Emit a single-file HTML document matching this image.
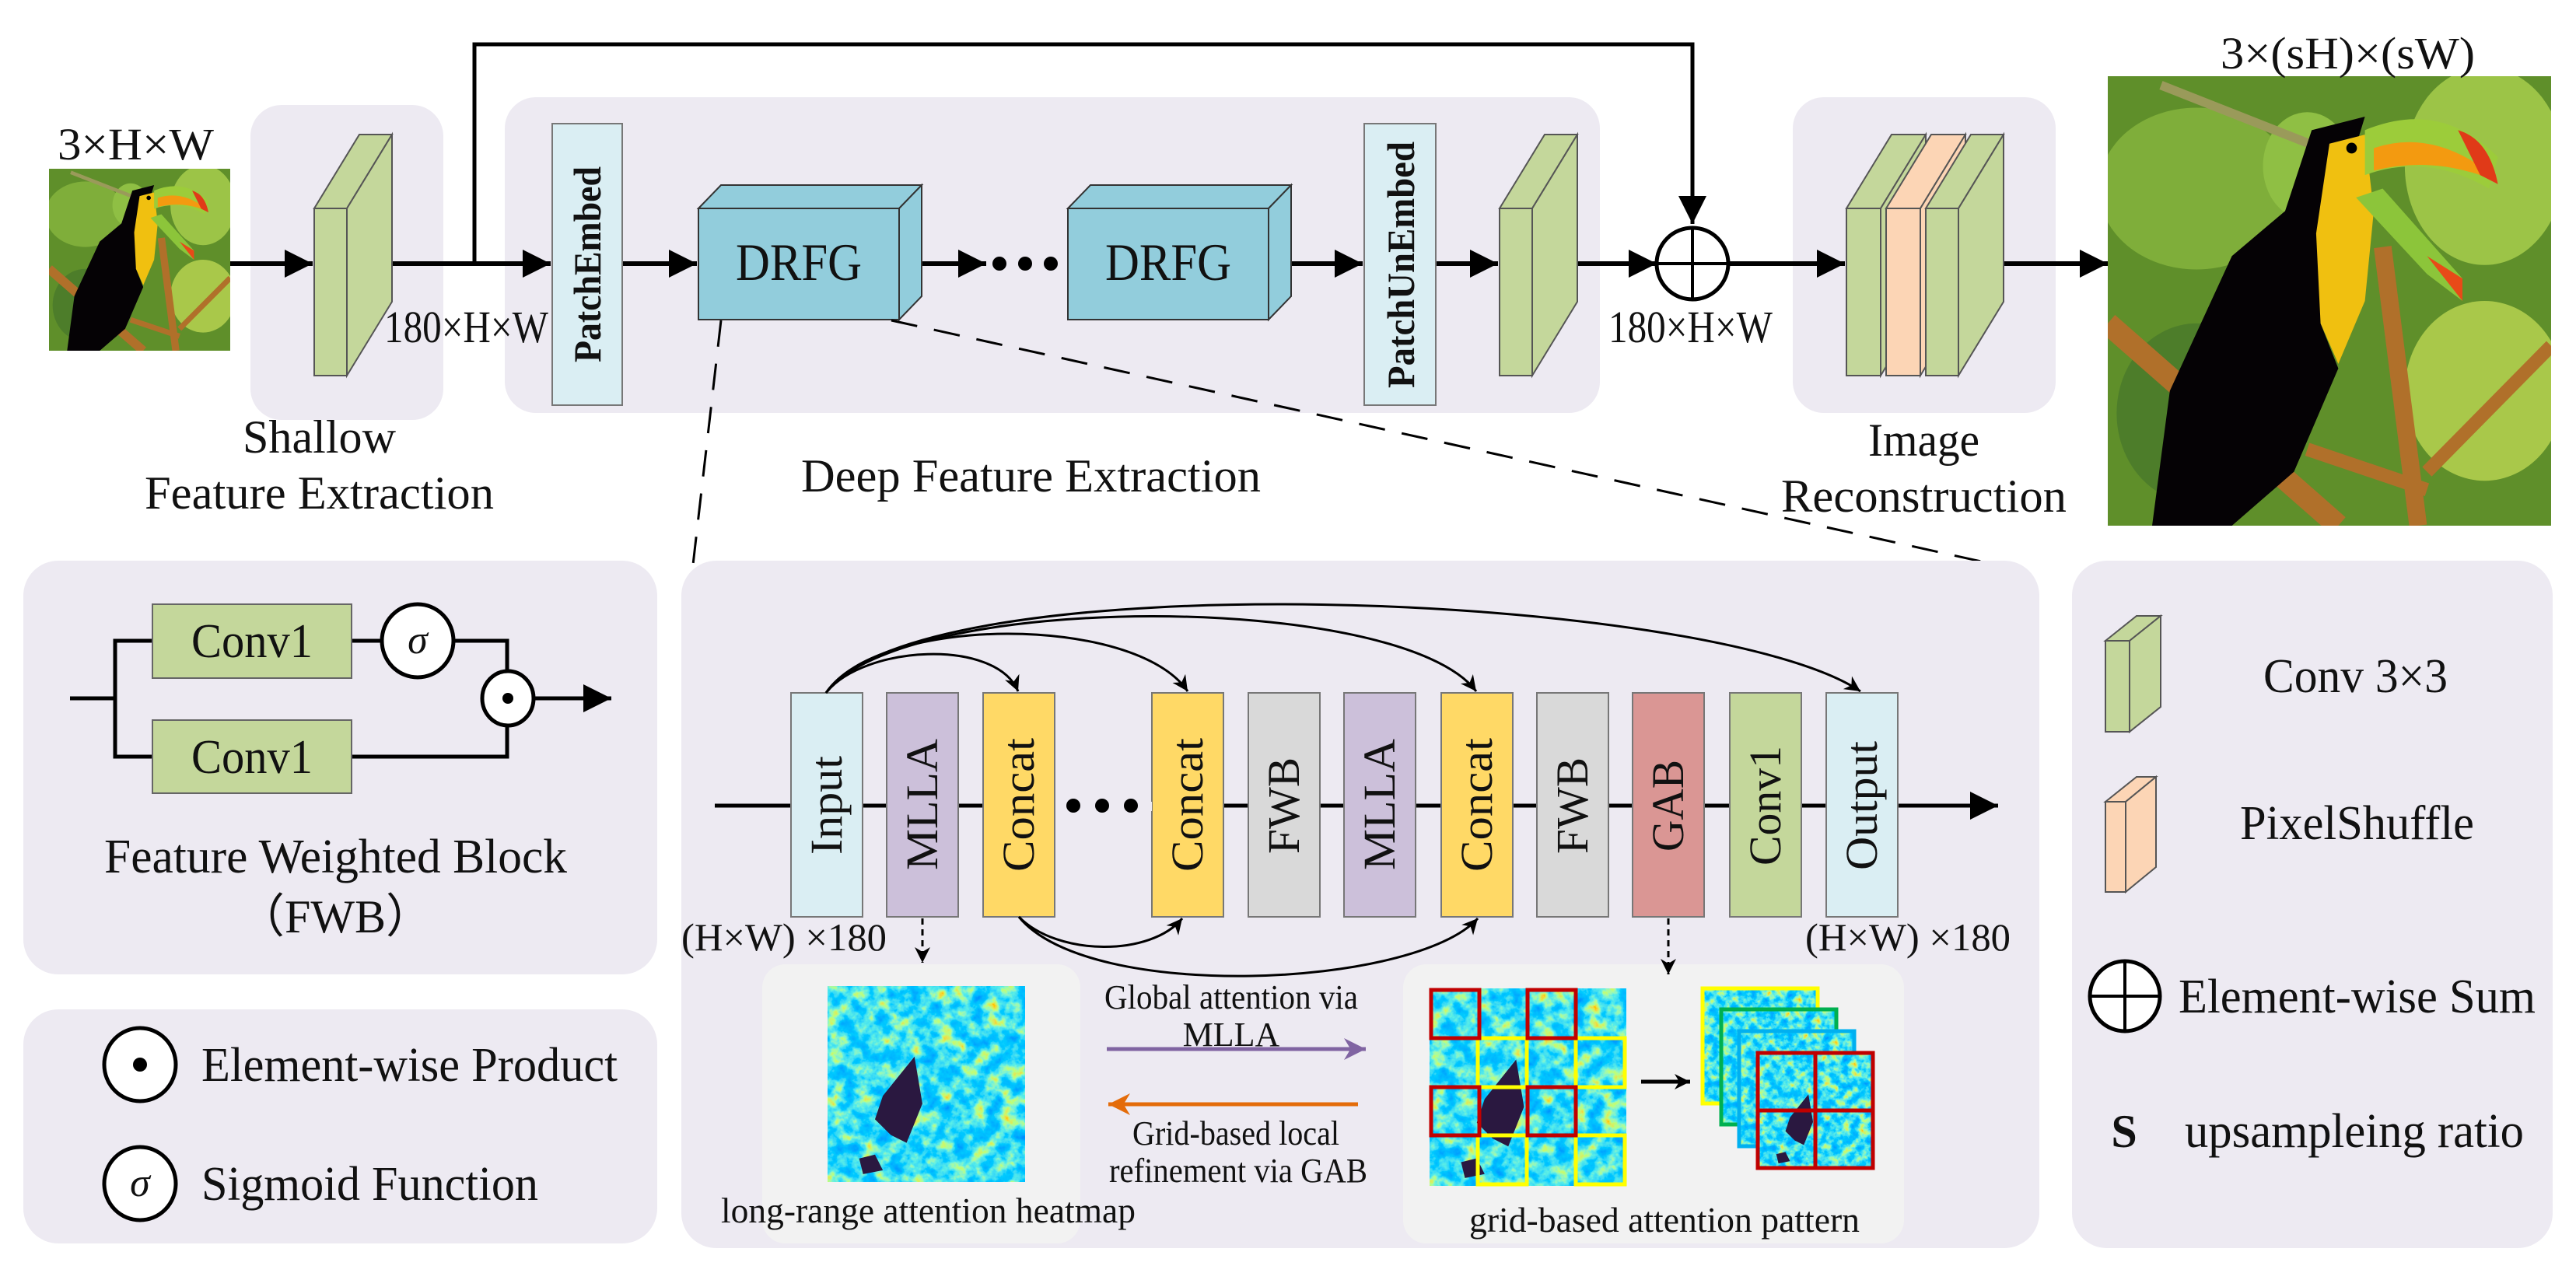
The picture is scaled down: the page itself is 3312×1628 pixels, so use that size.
<!DOCTYPE html>
<html><head><meta charset="utf-8"><style>
html,body{margin:0;padding:0;background:#fff;}
svg{display:block;}
text{font-family:"Liberation Serif",serif;fill:#111;}
</style></head><body>
<svg width="3312" height="1628" viewBox="0 0 3312 1628" xmlns="http://www.w3.org/2000/svg">
<defs>
<marker id="arr" viewBox="0 0 10 10" refX="10" refY="5" markerWidth="40" markerHeight="36" markerUnits="userSpaceOnUse" orient="auto"><path d="M0,0 L10,5 L0,10 Z" fill="#000"/></marker>
<marker id="arrs" viewBox="0 0 10 10" refX="10" refY="5" markerWidth="30" markerHeight="20" markerUnits="userSpaceOnUse" orient="auto"><path d="M0,0 L10,5 L0,10 L3,5 Z" fill="#000"/></marker>
<marker id="arrp" viewBox="0 0 10 10" refX="10" refY="5" markerWidth="32" markerHeight="28" markerUnits="userSpaceOnUse" orient="auto"><path d="M0,0 L10,5 L0,10 L3,5 Z" fill="#8064a2"/></marker>
<marker id="arro" viewBox="0 0 10 10" refX="10" refY="5" markerWidth="32" markerHeight="28" markerUnits="userSpaceOnUse" orient="auto"><path d="M0,0 L10,5 L0,10 L3,5 Z" fill="#e46c0a"/></marker>
<filter id="jet" x="0" y="0" width="100%" height="100%">
<feTurbulence type="fractalNoise" baseFrequency="0.05" numOctaves="4" seed="7"/>
<feColorMatrix type="matrix" values="1 0 0 0 0  1 0 0 0 0  1 0 0 0 0  0 0 0 0 1"/>
<feComponentTransfer>
<feFuncR type="table" tableValues="0 0 0 0 0.1 0.5 1 1"/>
<feFuncG type="table" tableValues="0.2 0.3 0.45 0.6 0.85 1 0.6 0"/>
<feFuncB type="table" tableValues="0.9 1 1 1 0.8 0.2 0 0"/>
</feComponentTransfer>
</filter>
<symbol id="toucan" viewBox="0 0 100 100" preserveAspectRatio="none">
<rect width="100" height="100" fill="#5f8f2a"/>
<ellipse cx="20" cy="25" rx="22" ry="18" fill="#7fae3a"/>
<ellipse cx="85" cy="20" rx="18" ry="22" fill="#9cc447"/>
<ellipse cx="85" cy="70" rx="18" ry="20" fill="#a9c84a"/>
<ellipse cx="20" cy="75" rx="18" ry="20" fill="#4d7d2a"/>
<ellipse cx="45" cy="20" rx="10" ry="12" fill="#8fbf44"/>
<path d="M0,55 L52,100" stroke="#b0702a" stroke-width="5"/>
<path d="M62,38 L70,100" stroke="#b0702a" stroke-width="4"/>
<path d="M100,60 L72,88" stroke="#b0702a" stroke-width="3"/>
<path d="M45,83 L72,92" stroke="#b0702a" stroke-width="3"/>
<path d="M12,2 L48,16" stroke="#9a9a5a" stroke-width="2"/>
<polygon points="46,12 58,9 50,35 48,55 52,65 42,88 28,100 10,100 14,70 28,40 40,30" fill="#050205"/>
<polygon points="50,15 58,13 60,30 58,50 52,64 48,55 47,35" fill="#f0c010"/>
<path d="M58,12 Q75,5 88,18 L86,25 Q72,17 58,22 Z" fill="#9ccc3a"/>
<path d="M60,16 Q72,12 84,20 L84,22 Q72,18 60,21 Z" fill="#f39a10"/>
<path d="M79,12 Q86,14 88,24 L84,22 Z" fill="#e03a18"/>
<path d="M56,27 L62,25 L80,45 L80,50 L72,44 Z" fill="#8cc53a"/>
<path d="M72,40 L80,45 L80,50 Z" fill="#e84a18"/>
<circle cx="55" cy="16" r="1.2" fill="#000"/>
</symbol>
<symbol id="heat" viewBox="0 0 250 250" preserveAspectRatio="none">
<rect width="250" height="250" fill="#2a7fff" filter="url(#jet)"/>
<path d="M70,140 L110,90 L120,150 L100,200 L80,190 L60,170 Z" fill="#2a1840"/>
<path d="M40,220 L60,215 L70,235 L45,240 Z" fill="#2a1840"/>
</symbol>
</defs>

<!-- ===== TOP ROW ===== -->
<rect x="322" y="135" width="248" height="405" rx="40" fill="#edeaf2"/>
<rect x="649" y="125" width="1408" height="406" rx="40" fill="#edeaf2"/>
<rect x="2305" y="125" width="338" height="406" rx="40" fill="#edeaf2"/>

<polyline points="610,339 610,57 2176,57 2176,288" fill="none" stroke="#000" stroke-width="5" marker-end="url(#arr)"/>

<use href="#toucan" x="63" y="217" width="233" height="234"/>
<text x="74" y="205" font-size="58" textLength="201" lengthAdjust="spacingAndGlyphs">3×H×W</text>

<line x1="296" y1="339" x2="402" y2="339" stroke="#000" stroke-width="6" marker-end="url(#arr)"/>
<line x1="486" y1="339" x2="708" y2="339" stroke="#000" stroke-width="6" marker-end="url(#arr)"/>
<line x1="800" y1="339" x2="896" y2="339" stroke="#000" stroke-width="6" marker-end="url(#arr)"/>
<line x1="1156" y1="339" x2="1268" y2="339" stroke="#000" stroke-width="6" marker-end="url(#arr)"/>
<circle cx="1285" cy="339" r="9"/><circle cx="1318" cy="339" r="9"/><circle cx="1351" cy="339" r="9"/>
<line x1="1660" y1="339" x2="1752" y2="339" stroke="#000" stroke-width="6" marker-end="url(#arr)"/>
<line x1="1846" y1="339" x2="1926" y2="339" stroke="#000" stroke-width="6" marker-end="url(#arr)"/>
<line x1="2000" y1="339" x2="2130" y2="339" stroke="#000" stroke-width="6" marker-end="url(#arr)"/>
<line x1="2222" y1="339" x2="2372" y2="339" stroke="#000" stroke-width="6" marker-end="url(#arr)"/>
<line x1="2553" y1="339" x2="2710" y2="339" stroke="#000" stroke-width="6" marker-end="url(#arr)"/>

<g stroke="#555" stroke-width="2" fill="#c4d79b">
<polygon points="404,268 462,173 504,173 446,268"/>
<polygon points="446,268 504,173 504,388 446,483"/>
<rect x="404" y="268" width="42" height="215"/>
</g>
<text x="494" y="440" font-size="58" textLength="211" lengthAdjust="spacingAndGlyphs">180×H×W</text>

<rect x="710" y="159" width="90" height="362" fill="#daeef3" stroke="#777" stroke-width="2"/>
<text transform="translate(772,466) rotate(-90)" font-size="50" font-weight="bold" textLength="252" lengthAdjust="spacingAndGlyphs">PatchEmbed</text>

<g stroke="#333" stroke-width="2" fill="#92cddc">
<polygon points="898,268 927,238 1185,238 1156,268"/>
<polygon points="1156,268 1185,238 1185,381 1156,411"/>
<rect x="898" y="268" width="258" height="143"/>
<polygon points="1373,268 1402,238 1660,238 1631,268"/>
<polygon points="1631,268 1660,238 1660,381 1631,411"/>
<rect x="1373" y="268" width="258" height="143"/>
</g>
<text x="946" y="360" font-size="68" textLength="162" lengthAdjust="spacingAndGlyphs">DRFG</text>
<text x="1421" y="360" font-size="68" textLength="162" lengthAdjust="spacingAndGlyphs">DRFG</text>

<rect x="1754" y="159" width="92" height="362" fill="#daeef3" stroke="#777" stroke-width="2"/>
<text transform="translate(1818,499) rotate(-90)" font-size="50" font-weight="bold" textLength="317" lengthAdjust="spacingAndGlyphs">PatchUnEmbed</text>

<g stroke="#555" stroke-width="2" fill="#c4d79b">
<polygon points="1928,268 1986,173 2028,173 1970,268"/>
<polygon points="1970,268 2028,173 2028,388 1970,483"/>
<rect x="1928" y="268" width="42" height="215"/>
</g>

<circle cx="2176" cy="339" r="46" fill="#fff" stroke="#000" stroke-width="5"/>
<line x1="2130" y1="339" x2="2222" y2="339" stroke="#000" stroke-width="4"/>
<line x1="2176" y1="293" x2="2176" y2="385" stroke="#000" stroke-width="4"/>
<text x="2068" y="440" font-size="58" textLength="211" lengthAdjust="spacingAndGlyphs">180×H×W</text>

<g stroke="#555" stroke-width="2">
<polygon points="2374,268 2432,173 2476,173 2418,268" fill="#c4d79b"/>
<polygon points="2418,268 2476,173 2476,388 2418,483" fill="#c4d79b"/>
<rect x="2374" y="268" width="44" height="215" fill="#c4d79b"/>
<polygon points="2425,268 2483,173 2527,173 2469,268" fill="#fcd5b5"/>
<polygon points="2469,268 2527,173 2527,388 2469,483" fill="#fcd5b5"/>
<rect x="2425" y="268" width="44" height="215" fill="#fcd5b5"/>
<polygon points="2476,268 2534,173 2576,173 2518,268" fill="#c4d79b"/>
<polygon points="2518,268 2576,173 2576,388 2518,483" fill="#c4d79b"/>
<rect x="2476" y="268" width="42" height="215" fill="#c4d79b"/>
</g>

<use href="#toucan" x="2710" y="98" width="570" height="578"/>
<text x="2855" y="88" font-size="58" textLength="327" lengthAdjust="spacingAndGlyphs">3×(sH)×(sW)</text>

<text x="312" y="582" font-size="60" textLength="197" lengthAdjust="spacingAndGlyphs">Shallow</text>
<text x="186" y="654" font-size="60" textLength="449" lengthAdjust="spacingAndGlyphs">Feature Extraction</text>
<text x="1030" y="632" font-size="60" textLength="591" lengthAdjust="spacingAndGlyphs">Deep Feature Extraction</text>
<text x="2402" y="586" font-size="60" textLength="143" lengthAdjust="spacingAndGlyphs">Image</text>
<text x="2290" y="658" font-size="60" textLength="367" lengthAdjust="spacingAndGlyphs">Reconstruction</text>

<line x1="927" y1="412" x2="890" y2="735" stroke="#000" stroke-width="3" stroke-dasharray="34,22"/>
<line x1="1146" y1="412" x2="2606" y2="735" stroke="#000" stroke-width="3" stroke-dasharray="34,22"/>

<!-- ===== BOTTOM ROW ===== -->
<rect x="30" y="721" width="815" height="532" rx="45" fill="#edeaf2"/>
<rect x="30" y="1298" width="815" height="301" rx="45" fill="#edeaf2"/>
<rect x="876" y="721" width="1746" height="884" rx="45" fill="#edeaf2"/>
<rect x="2664" y="721" width="618" height="884" rx="45" fill="#edeaf2"/>

<g stroke="#000" stroke-width="5" fill="none">
<polyline points="90,898 148,898"/>
<polyline points="196,824 148,824 148,973 196,973"/>
<line x1="452" y1="824" x2="491" y2="824"/>
<polyline points="583,824 652,824 652,864"/>
<polyline points="452,973 652,973 652,932"/>
<line x1="686" y1="898" x2="786" y2="898" marker-end="url(#arr)"/>
</g>
<rect x="196" y="777" width="256" height="95" fill="#c4d79b" stroke="#666" stroke-width="2"/>
<rect x="196" y="926" width="256" height="94" fill="#c4d79b" stroke="#666" stroke-width="2"/>
<text x="246" y="845" font-size="62" textLength="156" lengthAdjust="spacingAndGlyphs">Conv1</text>
<text x="246" y="994" font-size="62" textLength="156" lengthAdjust="spacingAndGlyphs">Conv1</text>
<ellipse cx="537" cy="824" rx="46" ry="47" fill="#fff" stroke="#000" stroke-width="5"/>
<text x="537" y="840" font-size="52" font-style="italic" text-anchor="middle">σ</text>
<ellipse cx="653" cy="898" rx="33" ry="35" fill="#fff" stroke="#000" stroke-width="5"/>
<circle cx="653" cy="898" r="7" fill="#000"/>
<text x="134" y="1122" font-size="62" textLength="595" lengthAdjust="spacingAndGlyphs">Feature Weighted Block</text>
<text x="431" y="1199" font-size="60" text-anchor="middle">（FWB）</text>

<ellipse cx="180" cy="1369" rx="46" ry="47" fill="#fff" stroke="#000" stroke-width="5"/>
<circle cx="180" cy="1369" r="9" fill="#000"/>
<text x="259" y="1390" font-size="62" textLength="535" lengthAdjust="spacingAndGlyphs">Element-wise Product</text>
<ellipse cx="180" cy="1522" rx="46" ry="47" fill="#fff" stroke="#000" stroke-width="5"/>
<text x="180" y="1538" font-size="52" font-style="italic" text-anchor="middle">σ</text>
<text x="259" y="1543" font-size="62" textLength="433" lengthAdjust="spacingAndGlyphs">Sigmoid Function</text>

<rect x="980" y="1240" width="409" height="359" rx="30" fill="#f2f2f2"/>
<rect x="1804" y="1240" width="644" height="359" rx="30" fill="#f2f2f2"/>

<line x1="919" y1="1036" x2="2569" y2="1036" stroke="#000" stroke-width="5" marker-end="url(#arr)"/>

<g stroke="#777" stroke-width="2">
<rect x="1017" y="891" width="92" height="288" fill="#daeef3"/>
<rect x="1140" y="891" width="92" height="288" fill="#ccc0da"/>
<rect x="1264" y="891" width="92" height="288" fill="#ffd966"/>
<rect x="1481" y="891" width="92" height="288" fill="#ffd966"/>
<rect x="1605" y="891" width="92" height="288" fill="#d9d9d9"/>
<rect x="1728" y="891" width="92" height="288" fill="#ccc0da"/>
<rect x="1853" y="891" width="92" height="288" fill="#ffd966"/>
<rect x="1976" y="891" width="92" height="288" fill="#d9d9d9"/>
<rect x="2099" y="891" width="92" height="288" fill="#da9694"/>
<rect x="2224" y="891" width="92" height="288" fill="#c4d79b"/>
<rect x="2348" y="891" width="92" height="288" fill="#daeef3"/>
</g>
<rect x="1357" y="1031" width="124" height="12" fill="#edeaf2"/>
<circle cx="1380" cy="1036" r="9"/><circle cx="1417" cy="1036" r="9"/><circle cx="1454" cy="1036" r="9"/>
<g font-size="58">
<text transform="translate(1082,1099) rotate(-90)" textLength="127" lengthAdjust="spacingAndGlyphs">Input</text>
<text transform="translate(1205,1119) rotate(-90)" textLength="169" lengthAdjust="spacingAndGlyphs">MLLA</text>
<text transform="translate(1329,1121) rotate(-90)" textLength="172" lengthAdjust="spacingAndGlyphs">Concat</text>
<text transform="translate(1546,1121) rotate(-90)" textLength="172" lengthAdjust="spacingAndGlyphs">Concat</text>
<text transform="translate(1670,1098) rotate(-90)" textLength="124" lengthAdjust="spacingAndGlyphs">FWB</text>
<text transform="translate(1793,1119) rotate(-90)" textLength="169" lengthAdjust="spacingAndGlyphs">MLLA</text>
<text transform="translate(1918,1121) rotate(-90)" textLength="172" lengthAdjust="spacingAndGlyphs">Concat</text>
<text transform="translate(2041,1098) rotate(-90)" textLength="124" lengthAdjust="spacingAndGlyphs">FWB</text>
<text transform="translate(2164,1095) rotate(-90)" textLength="118" lengthAdjust="spacingAndGlyphs">GAB</text>
<text transform="translate(2289,1113) rotate(-90)" textLength="154" lengthAdjust="spacingAndGlyphs">Conv1</text>
<text transform="translate(2413,1119) rotate(-90)" textLength="166" lengthAdjust="spacingAndGlyphs">Output</text>
</g>

<g fill="none" stroke="#000" stroke-width="3" marker-end="url(#arrs)">
<path d="M1062,891 C1110,830 1280,820 1309,889"/>
<path d="M1062,891 C1130,790 1460,790 1527,889"/>
<path d="M1062,891 C1160,760 1800,760 1898,889"/>
<path d="M1062,891 C1180,720 2200,760 2392,889"/>
<path d="M1310,1179 C1360,1230 1480,1230 1520,1181"/>
<path d="M1310,1179 C1400,1290 1820,1270 1900,1181"/>
</g>
<text x="876" y="1222" font-size="50" textLength="264" lengthAdjust="spacingAndGlyphs">(H×W) ×180</text>
<text x="2321" y="1222" font-size="50" textLength="264" lengthAdjust="spacingAndGlyphs">(H×W) ×180</text>

<line x1="1186" y1="1181" x2="1186" y2="1238" stroke="#000" stroke-width="3" stroke-dasharray="8,6" marker-end="url(#arrs)"/>
<line x1="2145" y1="1181" x2="2145" y2="1253" stroke="#000" stroke-width="3" stroke-dasharray="8,6" marker-end="url(#arrs)"/>

<use href="#heat" x="1064" y="1268" width="254" height="252"/>
<text x="927" y="1572" font-size="46" textLength="533" lengthAdjust="spacingAndGlyphs">long-range attention heatmap</text>

<text x="1420" y="1297" font-size="44" textLength="326" lengthAdjust="spacingAndGlyphs">Global attention via</text>
<text x="1583" y="1345" font-size="44" text-anchor="middle">MLLA</text>
<line x1="1423" y1="1349" x2="1756" y2="1349" stroke="#8064a2" stroke-width="5" marker-end="url(#arrp)"/>
<line x1="1746" y1="1420" x2="1425" y2="1420" stroke="#e46c0a" stroke-width="5" marker-end="url(#arro)"/>
<text x="1456" y="1472" font-size="44" textLength="266" lengthAdjust="spacingAndGlyphs">Grid-based local</text>
<text x="1426" y="1520" font-size="44" textLength="332" lengthAdjust="spacingAndGlyphs">refinement via GAB</text>

<use href="#heat" x="1838" y="1271" width="253" height="254"/>
<g fill="none" stroke-width="5">
<g stroke="#ffff00">
<rect x="1900" y="1335" width="63" height="63"/><rect x="2026" y="1335" width="63" height="63"/>
<rect x="1900" y="1460" width="63" height="63"/><rect x="2026" y="1460" width="63" height="63"/>
</g>
<g stroke="#c00000">
<rect x="1840" y="1273" width="62" height="62"/><rect x="1964" y="1273" width="62" height="62"/>
<rect x="1840" y="1398" width="62" height="62"/><rect x="1964" y="1398" width="62" height="62"/>
</g>
</g>
<line x1="2110" y1="1391" x2="2173" y2="1391" stroke="#000" stroke-width="5" marker-end="url(#arrs)"/>
<use href="#heat" x="2189" y="1271" width="148" height="148"/>
<rect x="2189" y="1271" width="148" height="148" fill="none" stroke="#ffff00" stroke-width="5"/>
<use href="#heat" x="2213" y="1298" width="148" height="148"/>
<rect x="2213" y="1298" width="148" height="148" fill="none" stroke="#00b050" stroke-width="5"/>
<use href="#heat" x="2236" y="1326" width="148" height="148"/>
<rect x="2236" y="1326" width="148" height="148" fill="none" stroke="#00b0f0" stroke-width="5"/>
<use href="#heat" x="2260" y="1354" width="148" height="148"/>
<g fill="none" stroke="#c00000" stroke-width="5">
<rect x="2260" y="1354" width="148" height="148"/>
<line x1="2334" y1="1354" x2="2334" y2="1502"/><line x1="2260" y1="1428" x2="2408" y2="1428"/>
</g>
<text x="1889" y="1584" font-size="46" textLength="502" lengthAdjust="spacingAndGlyphs">grid-based attention pattern</text>

<g stroke="#555" stroke-width="2">
<polygon points="2707,824 2747,792 2778,792 2738,824" fill="#c4d79b"/>
<polygon points="2738,824 2778,792 2778,909 2738,941" fill="#c4d79b"/>
<rect x="2707" y="824" width="31" height="117" fill="#c4d79b"/>
<polygon points="2707,1031 2747,999 2772,999 2733,1031" fill="#fcd5b5"/>
<polygon points="2733,1031 2772,999 2772,1115 2733,1147" fill="#fcd5b5"/>
<rect x="2707" y="1031" width="26" height="116" fill="#fcd5b5"/>
</g>
<text x="2910" y="890" font-size="62" textLength="237" lengthAdjust="spacingAndGlyphs">Conv 3×3</text>
<text x="2880" y="1079" font-size="62" textLength="301" lengthAdjust="spacingAndGlyphs">PixelShuffle</text>
<circle cx="2732" cy="1281" r="45" fill="#fff" stroke="#000" stroke-width="5"/>
<line x1="2687" y1="1281" x2="2777" y2="1281" stroke="#000" stroke-width="4"/>
<line x1="2732" y1="1236" x2="2732" y2="1326" stroke="#000" stroke-width="4"/>
<text x="2801" y="1302" font-size="62" textLength="459" lengthAdjust="spacingAndGlyphs">Element-wise Sum</text>
<text x="2731" y="1475" font-size="60" font-weight="bold" text-anchor="middle">S</text>
<text x="2809" y="1475" font-size="62" textLength="436" lengthAdjust="spacingAndGlyphs">upsampleing ratio</text>
</svg>
</body></html>
